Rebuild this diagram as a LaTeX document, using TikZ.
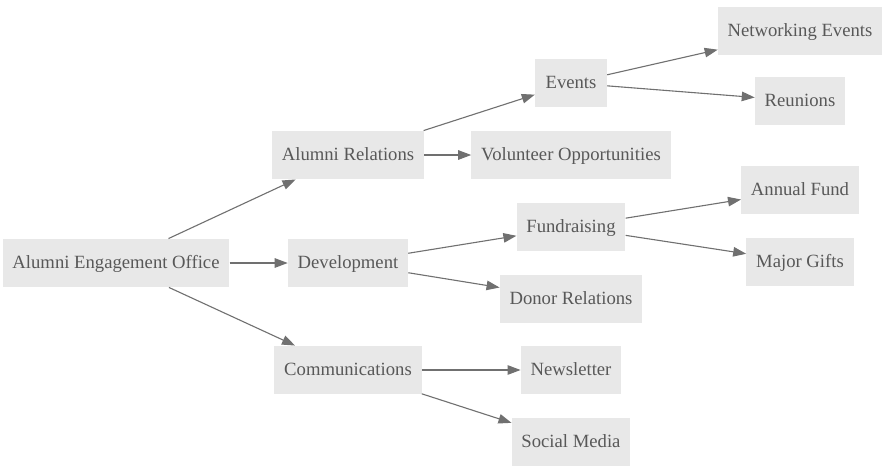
\documentclass[tikz,border=0pt]{standalone}
\usepackage{fontspec}
\setmainfont{Liberation Serif}
\usetikzlibrary{arrows.meta}
\definecolor{boxfill}{HTML}{E8E8E8}
\definecolor{txt}{HTML}{585858}
\definecolor{edge}{HTML}{707070}
\begin{document}
\begin{tikzpicture}[x=1pt,y=-1pt,
  box/.style={rectangle, fill=boxfill, draw=none, text=txt,
    font=\fontsize{18.67}{22}\selectfont, inner xsep=9.8pt, inner ysep=0pt,
    text height=13pt, text depth=3pt,
    minimum width=72pt, minimum height=48.5pt},
  link/.style={draw=edge, line width=1.1pt, -{Triangle[length=13pt,width=9.5pt]}}]
\useasboundingbox[fill=white] (0,0) rectangle (887,472);
\node[box] (aeo) at (116,263) {Alumni Engagement Office};
\node[box] (ar) at (348,155) {Alumni Relations};
\node[box] (dev) at (348,263) {Development};
\node[box] (com) at (348,370) {Communications};
\node[box] (ev) at (571,83) {Events};
\node[box] (vol) at (571,155) {Volunteer Opportunities};
\node[box] (fund) at (571,227) {Fundraising};
\node[box] (don) at (571,299) {Donor Relations};
\node[box] (news) at (571,370) {Newsletter};
\node[box] (soc) at (571,442) {Social Media};
\node[box] (net) at (800,31) {Networking Events};
\node[box] (reu) at (800,101) {Reunions};
\node[box] (ann) at (800,190) {Annual Fund};
\node[box] (maj) at (800,262) {Major Gifts};
\draw[link] (aeo) -- (ar);
\draw[link] (aeo) -- (dev);
\draw[link] (aeo) -- (com);
\draw[link] (ar) -- (ev);
\draw[link] (ar) -- (vol);
\draw[link] (dev) -- (fund);
\draw[link] (dev) -- (don);
\draw[link] (com) -- (news);
\draw[link] (com) -- (soc);
\draw[link] (ev) -- (net);
\draw[link] (ev) -- (reu);
\draw[link] (fund) -- (ann);
\draw[link] (fund) -- (maj);
\end{tikzpicture}
\end{document}
